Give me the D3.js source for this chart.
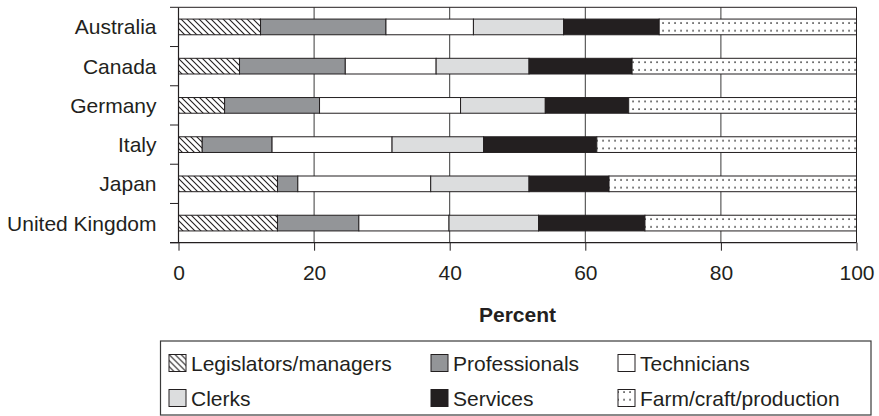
<!DOCTYPE html>
<html>
<head>
<meta charset="utf-8">
<script src="https://cdn.jsdelivr.net/npm/d3@7"></script>
<style>
  html, body { margin: 0; padding: 0; background: #fff; }
  svg { display: block; font-family: "Liberation Sans", Arial, Helvetica, sans-serif; }
</style>
</head>
<body>
<svg id="chart" width="879" height="416"></svg>
<script>
const categories = ["Australia", "Canada", "Germany", "Italy", "Japan", "United Kingdom"];
const seriesNames = ["Legislators/managers", "Professionals", "Technicians", "Clerks", "Services", "Farm/craft/production"];
const legislators = [12.1, 9.0, 6.8, 3.5, 14.6, 14.6];
const professionals = [18.5, 15.6, 14.0, 10.3, 3.0, 12.0];
const technicians = [12.9, 13.4, 20.8, 17.7, 19.6, 13.3];
const clerks = [13.3, 13.7, 12.5, 13.5, 14.5, 13.2];
const services = [14.1, 15.2, 12.3, 16.7, 11.8, 15.7];
const farm = [29.1, 33.1, 33.6, 38.3, 36.5, 31.2];
const xTicks = [0, 20, 40, 60, 80, 100];
const xTitle = "Percent";

const seriesValues = [legislators, professionals, technicians, clerks, services, farm];
const solid = ["url(#hatch)", "#939598", "#ffffff", "#dcddde", "#231f20", null];
const ink = "#231f20";
const FS = "21px";

const svg = d3.select("#chart");
const defs = svg.append("defs");

const hatch = defs.append("pattern").attr("id", "hatch").attr("patternUnits", "userSpaceOnUse")
  .attr("width", 6).attr("height", 6);
hatch.append("rect").attr("width", 6).attr("height", 6).attr("fill", "#fff");
hatch.append("path").attr("d", "M-1,-1 L7,7 M-1,5 L1,7 M5,-1 L7,1")
  .attr("stroke", ink).attr("stroke-width", 1.1);

function makeDots(id, yOff, xOff) {
  const p = defs.append("pattern").attr("id", id).attr("patternUnits", "userSpaceOnUse")
    .attr("x", xOff).attr("y", yOff).attr("width", 6).attr("height", 7.7);
  p.append("rect").attr("width", 6).attr("height", 7.7).attr("fill", "#fff");
  p.append("rect").attr("x", 2.3).attr("y", 3.2).attr("width", 1.5).attr("height", 1.5).attr("fill", "#2a2a2a");
}

const x = d3.scaleLinear().domain([0, 100]).range([178.5, 856.5]);
const y = d3.scaleBand().domain(categories).range([7.3, 242.7]).paddingInner(0.6).paddingOuter(0.3);

categories.forEach((c, i) => makeDots("dots" + i, y(c), 0));

const table = categories.map((c, i) => {
  const row = { category: c };
  seriesNames.forEach((s, j) => row[s] = seriesValues[j][i]);
  return row;
});
const stacked = d3.stack().keys(seriesNames)(table);

const [x0, x1] = x.range();
const [y0, y1] = y.range();

// gridlines
svg.append("g").selectAll("line").data(xTicks.filter(t => t > 0 && t < 100)).join("line")
  .attr("x1", d => x(d)).attr("x2", d => x(d))
  .attr("y1", y0).attr("y2", y1)
  .attr("stroke", "#3a3a3a").attr("stroke-width", 1);

// frame top and right
svg.append("line").attr("x1", x0).attr("x2", x1).attr("y1", y0).attr("y2", y0).attr("stroke", ink).attr("stroke-width", 1);
svg.append("line").attr("x1", x1).attr("x2", x1).attr("y1", y0).attr("y2", y1).attr("stroke", ink).attr("stroke-width", 1);

// bars
svg.append("g").selectAll("g").data(stacked).join("g")
  .each(function(s, si) {
    d3.select(this).selectAll("rect").data(s).join("rect")
      .attr("x", d => x(d[0]))
      .attr("width", d => x(d[1]) - x(d[0]))
      .attr("y", d => y(d.data.category))
      .attr("height", y.bandwidth())
      .attr("fill", (d, i) => solid[si] || `url(#dots${categories.indexOf(d.data.category)})`)
      .attr("stroke", ink).attr("stroke-width", 1);
  });

// x axis
const xAxis = svg.append("g").attr("transform", `translate(0,${y1})`)
  .call(d3.axisBottom(x).tickValues(xTicks).tickSize(8).tickPadding(14).tickSizeOuter(0));
xAxis.select(".domain").remove();
xAxis.selectAll(".tick line").attr("stroke", ink);
xAxis.selectAll(".tick text").attr("font-size", FS).attr("fill", "#231f20").attr("font-family", "Liberation Sans, Arial, sans-serif");
svg.append("line").attr("x1", x0 - 8.5).attr("x2", x1).attr("y1", y1).attr("y2", y1).attr("stroke", ink).attr("stroke-width", 1.2);

// y axis
svg.append("line").attr("x1", x0).attr("x2", x0).attr("y1", y0).attr("y2", y1).attr("stroke", ink).attr("stroke-width", 1.2);
const step = y.step();
const bounds = d3.range(categories.length + 1).map(i => y0 + i * step);
svg.append("g").selectAll("line").data(bounds).join("line")
  .attr("x1", x0 - 8.5).attr("x2", x0).attr("y1", d => d).attr("y2", d => d)
  .attr("stroke", ink).attr("stroke-width", 1);
svg.append("g").selectAll("text").data(categories).join("text")
  .attr("x", x0 - 22).attr("y", d => y(d) + y.bandwidth() / 2)
  .attr("dy", "0.36em").attr("text-anchor", "end")
  .attr("font-size", FS).attr("fill", "#231f20").text(d => d);

// x title
svg.append("text").attr("x", (x0 + x1) / 2).attr("y", 321.5).attr("text-anchor", "middle")
  .attr("font-size", FS).attr("font-weight", "bold").attr("fill", "#231f20").text(xTitle);

// legend
svg.append("rect").attr("x", 160.5).attr("y", 341).attr("width", 710.5).attr("height", 74)
  .attr("fill", "none").attr("stroke", "#3a3a3a").attr("stroke-width", 1.2);
const colX = [169, 431, 618];
const rowY = [354.5, 389.5];
makeDots("dotsLegend", rowY[1] + 1.8, colX[2] + 3.0);
const leg = svg.append("g").selectAll("g").data(seriesNames).join("g")
  .attr("transform", (d, i) => `translate(${colX[i % 3]},${rowY[Math.floor(i / 3)]})`);
leg.append("rect").attr("width", 17).attr("height", 17)
  .attr("fill", (d, i) => solid[i] || "url(#dotsLegend)")
  .attr("x", 0).attr("y", 0)
  .attr("stroke", ink).attr("stroke-width", 1);
leg.append("text").attr("x", 22).attr("y", 16).attr("font-size", FS).attr("fill", "#231f20").text(d => d);
</script>
</body>
</html>
